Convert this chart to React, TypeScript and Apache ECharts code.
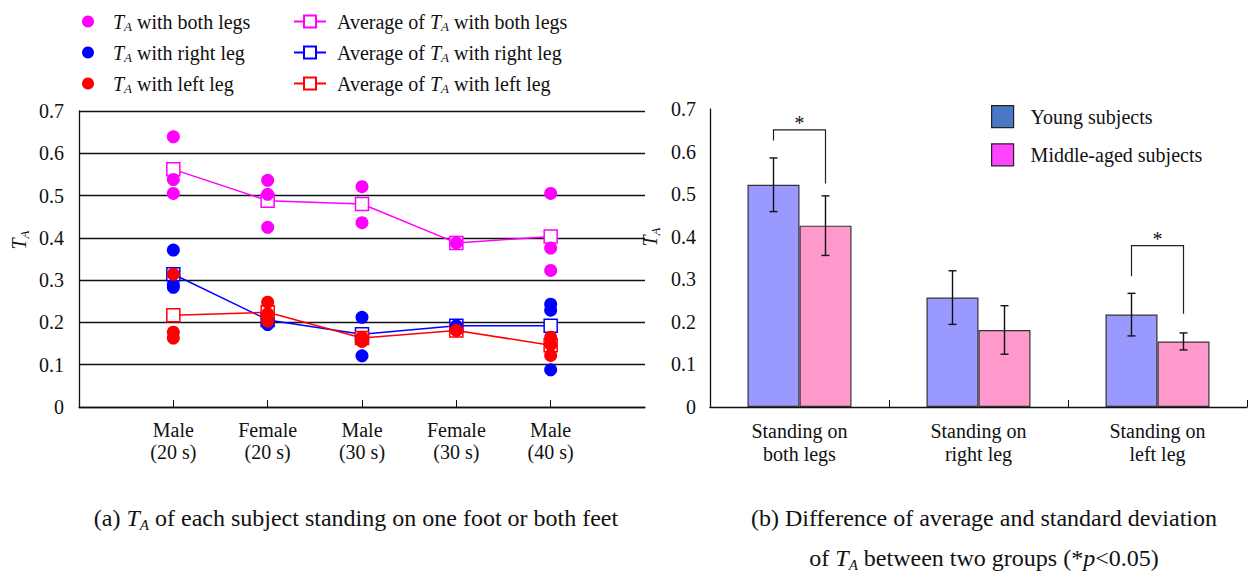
import React, { useEffect, useRef } from 'react';
import * as echarts from 'echarts';

const FONT = 'Liberation Serif';

// ---- (a) per-subject values ----
const LEFT_CATEGORIES = ['', 'Male\n(20 s)', 'Female\n(20 s)', 'Male\n(30 s)', 'Female\n(30 s)', 'Male\n(40 s)', ''];
const BOTH_POINTS = [[0.639, 0.538, 0.505], [0.536, 0.503, 0.425], [0.521, 0.436], [0.388], [0.505, 0.376, 0.323]];
const RIGHT_POINTS = [[0.371, 0.289, 0.283], [0.205, 0.2, 0.195], [0.212, 0.121], [0.192], [0.243, 0.229, 0.088]];
const LEFT_POINTS = [[0.314, 0.177, 0.163], [0.248, 0.22, 0.203], [0.165, 0.155], [0.181], [0.165, 0.148, 0.122]];
const BOTH_AVG = [0.562, 0.488, 0.48, 0.388, 0.403];
const RIGHT_AVG = [0.314, 0.206, 0.172, 0.192, 0.192];
const LEFT_AVG = [0.217, 0.224, 0.163, 0.181, 0.146];
const POINT_NAMES = ['T_A with both legs', 'T_A with right leg', 'T_A with left leg'];
const AVG_NAMES = ['Average of T_A with both legs', 'Average of T_A with right leg', 'Average of T_A with left leg'];
const SERIES_COLORS = ['#ff00ff', '#0000ff', '#ff0000'];

// ---- (b) group means and standard deviations ----
const BAR_CATEGORIES = ['Standing on\nboth legs', 'Standing on\nright leg', 'Standing on\nleft leg'];
const GROUP_NAMES = ['Young subjects', 'Middle-aged subjects'];
const YOUNG_MEAN = [0.522, 0.257, 0.217];
const YOUNG_SD = [0.063, 0.063, 0.05];
const MIDDLE_MEAN = [0.426, 0.181, 0.154];
const MIDDLE_SD = [0.07, 0.057, 0.02];
// [category, bracket top, left end, right end]
const SIGNIFICANCE = [[0, 0.651, 0.626, 0.525], [2, 0.379, 0.307, 0.219]];

const Y_MIN = 0;
const Y_MAX = 0.7;
const Y_STEP = 0.1;

const BAR_W = 52;
const TA = (s: string) => s.replace('T_A', '{t|T}{s|A}');

const richSmall = (size: number, sub: number, shift: number) => ({
  t: { fontFamily: FONT, fontStyle: 'italic', fontSize: size, color: '#111' },
  s: { fontFamily: FONT, fontStyle: 'italic', fontSize: sub, lineHeight: 6, padding: [shift * 2, 0, 0, 0], color: '#111' },
  i: { fontFamily: FONT, fontStyle: 'italic', fontSize: size, color: '#111' },
});

export default function App() {
  const ref = useRef<HTMLDivElement>(null);
  useEffect(() => {
    if (!ref.current) return;
    const chart = echarts.init(ref.current, undefined, { renderer: 'svg' });

    const pointSeries = [BOTH_POINTS, RIGHT_POINTS, LEFT_POINTS].map((groups, k) => ({
      type: 'scatter',
      name: POINT_NAMES[k],
      xAxisIndex: 0,
      yAxisIndex: 0,
      symbol: 'circle',
      symbolSize: 13,
      itemStyle: { color: SERIES_COLORS[k], opacity: 1 },
      data: groups.flatMap((vals, i) => vals.map((v) => [i + 1, v])),
      z: 3,
    }));
    const avgSeries = [BOTH_AVG, RIGHT_AVG, LEFT_AVG].map((vals, k) => ({
      type: 'line',
      name: AVG_NAMES[k],
      xAxisIndex: 0,
      yAxisIndex: 0,
      symbol: 'rect',
      symbolSize: 13,
      color: SERIES_COLORS[k],
      itemStyle: { color: '#ffffff', borderColor: SERIES_COLORS[k], borderWidth: 1.5 },
      lineStyle: { color: SERIES_COLORS[k], width: 1.5 },
      data: vals.map((v, i) => [i + 1, v]),
      z: 2,
    }));

    const errSeries = [
      { mean: YOUNG_MEAN, sd: YOUNG_SD, off: -BAR_W / 2 },
      { mean: MIDDLE_MEAN, sd: MIDDLE_SD, off: BAR_W / 2 },
    ].map((g) => ({
      type: 'custom',
      xAxisIndex: 1,
      yAxisIndex: 1,
      z: 5,
      encode: { x: 0, y: 1 },
      data: g.mean.map((m, i) => [i, m, g.sd[i]]),
      renderItem: (params: any, api: any) => {
        const c = api.value(0);
        const m = api.value(1);
        const sd = api.value(2);
        const x = api.coord([c, m])[0] + g.off;
        const yt = api.coord([c, m + sd])[1];
        const yb = api.coord([c, m - sd])[1];
        const st = { stroke: '#111', lineWidth: 1.4 };
        return {
          type: 'group',
          children: [
            { type: 'line', shape: { x1: x, y1: yt, x2: x, y2: yb }, style: st },
            { type: 'line', shape: { x1: x - 4, y1: yt, x2: x + 4, y2: yt }, style: st },
            { type: 'line', shape: { x1: x - 4, y1: yb, x2: x + 4, y2: yb }, style: st },
          ],
        };
      },
    }));

    const sigSeries = {
      type: 'custom',
      xAxisIndex: 1,
      yAxisIndex: 1,
      z: 5,
      encode: { x: 0, y: 1 },
      data: SIGNIFICANCE,
      renderItem: (params: any, api: any) => {
        const c = api.value(0);
        const top = api.value(1);
        const le = api.value(2);
        const re = api.value(3);
        const cx = api.coord([c, top])[0];
        const xl = cx - BAR_W / 2;
        const xr = cx + BAR_W / 2;
        const yt = api.coord([c, top])[1];
        const yl = api.coord([c, le])[1];
        const yr = api.coord([c, re])[1];
        return {
          type: 'group',
          children: [
            {
              type: 'polyline',
              shape: { points: [[xl, yl], [xl, yt], [xr, yt], [xr, yr]] },
              style: { stroke: '#222', lineWidth: 1.2, fill: 'none' },
            },
            {
              type: 'text',
              x: cx,
              y: yt + 3,
              style: { text: '*', fontFamily: FONT, fontSize: 20, fill: '#111', align: 'center', verticalAlign: 'bottom' },
            },
          ],
        };
      },
    };

    const legendBase = {
      orient: 'vertical',
      padding: 0,
      textStyle: { fontFamily: FONT, fontSize: 20, color: '#111', lineHeight: 22, rich: richSmall(20, 13, 5) },
      formatter: (n: string) => TA(n),
    };

    const option: any = {
      animation: false,
      backgroundColor: '#ffffff',
      textStyle: { fontFamily: FONT },
      title: [
        {
          text: '(a) ' + TA('T_A') + ' of each subject standing on one foot or both feet',
          left: 356,
          top: 498,
          padding: 0,
          textAlign: 'center',
          textStyle: { fontFamily: FONT, fontSize: 24, fontWeight: 'normal', color: '#111', lineHeight: 40, rich: richSmall(24, 15, 7) },
        },
        {
          text: '(b) Difference of average and standard deviation\nof ' + TA('T_A') + ' between two groups (*{i|p}<0.05)',
          left: 984,
          top: 498,
          padding: 0,
          textAlign: 'center',
          textStyle: { fontFamily: FONT, fontSize: 24, fontWeight: 'normal', color: '#111', lineHeight: 40, rich: richSmall(24, 15, 7) },
        },
      ],
      legend: [
        {
          ...legendBase,
          left: 82,
          top: 10,
          itemWidth: 12,
          itemHeight: 12,
          itemGap: 8,
          textStyle: { ...legendBase.textStyle, padding: [0, 0, 0, 14] },
          data: POINT_NAMES,
        },
        {
          ...legendBase,
          left: 293,
          top: 10,
          itemWidth: 32,
          itemHeight: 15,
          itemGap: 8,
          textStyle: { ...legendBase.textStyle, padding: [0, 0, 0, 6] },
          data: AVG_NAMES,
        },
        {
          orient: 'vertical',
          padding: 0,
          left: 991,
          top: 105,
          itemWidth: 22,
          itemHeight: 22,
          itemGap: 15,
          icon: 'rect',
          textStyle: { fontFamily: FONT, fontSize: 20, color: '#111', lineHeight: 22, padding: [0, 0, 0, 12] },
          data: [
            { name: GROUP_NAMES[0], itemStyle: { color: '#4a78c4', borderColor: '#222', borderWidth: 1.2 } },
            { name: GROUP_NAMES[1], itemStyle: { color: '#ff44ff', borderColor: '#222', borderWidth: 1.2 } },
          ],
        },
      ],
      grid: [
        { left: 79, right: 604, top: 111, bottom: 165 },
        { left: 710, right: 2, top: 109, bottom: 165 },
      ],
      xAxis: [
        {
          type: 'category',
          gridIndex: 0,
          data: LEFT_CATEGORIES,
          boundaryGap: false,
          axisLine: { lineStyle: { color: '#111', width: 1.3 } },
          axisTick: { show: true, inside: true, length: 7, lineStyle: { color: '#111' }, interval: (i: number) => i >= 1 && i <= 5 },
          axisLabel: { interval: 0, fontFamily: FONT, fontSize: 20, color: '#111', lineHeight: 22, margin: 12 },
          splitLine: { show: false },
        },
        {
          type: 'category',
          gridIndex: 1,
          data: BAR_CATEGORIES,
          axisLine: { lineStyle: { color: '#111', width: 1.3 } },
          axisTick: { show: true, inside: true, length: 7, lineStyle: { color: '#111' } },
          axisLabel: { interval: 0, fontFamily: FONT, fontSize: 20, color: '#111', lineHeight: 23, margin: 12 },
        },
      ],
      yAxis: [
        {
          type: 'value',
          gridIndex: 0,
          min: Y_MIN,
          max: Y_MAX,
          interval: Y_STEP,
          name: TA('T_A'),
          nameLocation: 'middle',
          nameRotate: 90,
          nameGap: 50,
          nameTextStyle: { fontFamily: FONT, fontSize: 20, padding: [0, 0, 0, 38], rich: richSmall(20, 13, 5) },
          axisLine: { show: true, lineStyle: { color: '#111', width: 1.3 } },
          axisTick: { show: false },
          axisLabel: { fontFamily: FONT, fontSize: 20, color: '#111', margin: 15 },
          splitLine: { show: true, lineStyle: { color: '#111', width: 1.3 } },
        },
        {
          type: 'value',
          gridIndex: 1,
          min: Y_MIN,
          max: Y_MAX,
          interval: Y_STEP,
          name: TA('T_A'),
          nameLocation: 'middle',
          nameRotate: 90,
          nameGap: 50,
          nameTextStyle: { fontFamily: FONT, fontSize: 20, padding: [0, 0, 0, 42], rich: richSmall(20, 13, 5) },
          axisLine: { show: true, lineStyle: { color: '#111', width: 1.3 } },
          axisTick: { show: false },
          axisLabel: { fontFamily: FONT, fontSize: 20, color: '#111', margin: 14 },
          splitLine: { show: false },
        },
      ],
      series: [
        ...avgSeries,
        ...pointSeries,
        {
          type: 'bar',
          name: GROUP_NAMES[0],
          xAxisIndex: 1,
          yAxisIndex: 1,
          barWidth: BAR_W,
          barGap: '0%',
          itemStyle: { color: '#9999ff', borderColor: '#333', borderWidth: 1.2 },
          data: YOUNG_MEAN,
        },
        {
          type: 'bar',
          name: GROUP_NAMES[1],
          xAxisIndex: 1,
          yAxisIndex: 1,
          barWidth: BAR_W,
          barGap: '0%',
          itemStyle: { color: '#ff99cc', borderColor: '#333', borderWidth: 1.2 },
          data: MIDDLE_MEAN,
        },
        ...errSeries,
        sigSeries,
      ],
    };
    chart.setOption(option);
    return () => chart.dispose();
  }, []);
  return <div ref={ref} style={{ position: 'absolute', left: 0, top: 0, width: 1249, height: 572 }} />;
}
